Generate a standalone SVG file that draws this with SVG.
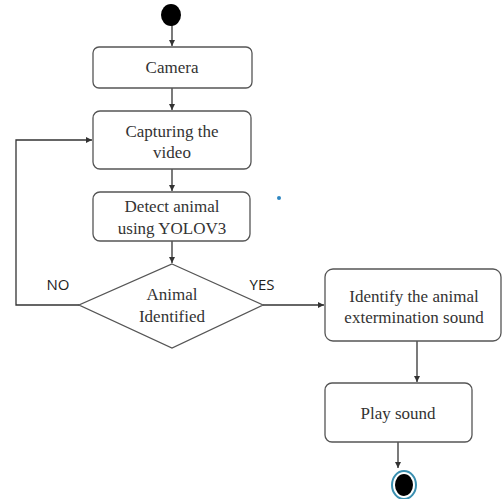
<svg xmlns="http://www.w3.org/2000/svg" width="503" height="499" viewBox="0 0 503 499">
<defs>
<marker id="ah" markerWidth="8" markerHeight="8" refX="6" refY="3" orient="auto" markerUnits="userSpaceOnUse">
<path d="M0,0 L6,3 L0,6 Z" fill="#333"/>
</marker>
<style>
.box{fill:#fff;stroke:#555;stroke-width:1.3}
.t{font-family:"Liberation Serif","Times New Roman",serif;font-size:17px;fill:#333;text-anchor:middle}
.lb{font-family:"Open Sans","DejaVu Sans",sans-serif;font-size:15px;fill:#222;text-anchor:middle}
.c{fill:none;stroke:#333;stroke-width:1.3}
</style>
</defs>
<rect width="503" height="499" fill="#fff"/>
<g id="connectors">
<line class="c" x1="172" y1="25" x2="172" y2="46" marker-end="url(#ah)"/>
<line class="c" x1="172" y1="88" x2="172" y2="110" marker-end="url(#ah)"/>
<line class="c" x1="172" y1="169" x2="172" y2="191" marker-end="url(#ah)"/>
<line class="c" x1="172" y1="241" x2="172" y2="263" marker-end="url(#ah)"/>
<polyline class="c" points="79,305 16,305 16,140 92,140" marker-end="url(#ah)"/>
<line class="c" x1="263" y1="305" x2="324" y2="305" marker-end="url(#ah)"/>
<line class="c" x1="417" y1="341" x2="417" y2="382" marker-end="url(#ah)"/>
<line class="c" x1="398" y1="442" x2="398" y2="468" marker-end="url(#ah)"/>
<text class="lb" x="58" y="290">NO</text>
<text class="lb" x="262" y="290">YES</text>
</g>
<g id="start"><ellipse cx="171" cy="15" rx="10" ry="11" fill="#000"/></g>
<g id="camera">
<rect class="box" x="93" y="47" width="159" height="41" rx="6"/>
<text class="t" x="172" y="73">Camera</text>
</g>
<g id="capturing">
<rect class="box" x="93" y="111" width="158" height="58" rx="7"/>
<text class="t" x="172" y="137">Capturing the</text>
<text class="t" x="172" y="158">video</text>
</g>
<g id="detect">
<rect class="box" x="93" y="192" width="157" height="49" rx="7"/>
<text class="t" x="172" y="212">Detect animal</text>
<text class="t" x="172" y="234">using YOLOV3</text>
</g>
<g id="decision">
<polygon class="box" points="172,264 263,305 172,348 79,305"/>
<text class="t" x="172" y="300">Animal</text>
<text class="t" x="172" y="322">Identified</text>
</g>
<g id="identify">
<rect class="box" x="325" y="269" width="176" height="72" rx="8"/>
<text class="t" x="414" y="302">Identify the animal</text>
<text class="t" x="414" y="323">extermination sound</text>
</g>
<g id="play">
<rect class="box" x="325" y="383" width="147" height="59" rx="7"/>
<text class="t" x="398" y="419">Play sound</text>
</g>
<g id="end">
<ellipse cx="404" cy="485" rx="12" ry="14" fill="#fff" stroke="#3a8fb0" stroke-width="2"/>
<ellipse cx="404" cy="485" rx="9" ry="11" fill="#000"/>
</g>
<circle cx="279" cy="198" r="2" fill="#2e86c1"/>
</svg>
